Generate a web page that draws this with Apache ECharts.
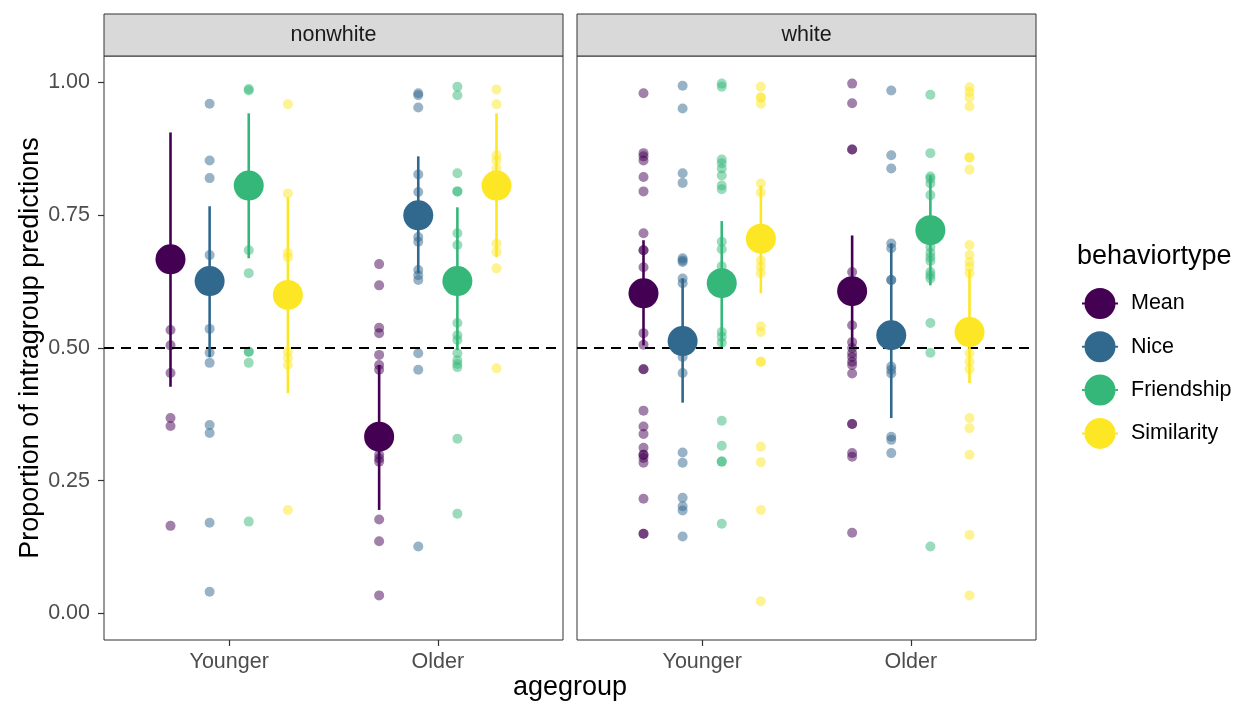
<!DOCTYPE html>
<html>
<head>
<meta charset="utf-8">
<script src="https://cdn.jsdelivr.net/npm/echarts/dist/echarts.min.js"></script>
<style>html,body{margin:0;padding:0;background:#fff;}#chart{width:1238px;height:704px;}</style>
</head>
<body>
<div id="chart"></div>
<script>
// ---------- data ----------
const facets = ['nonwhite', 'white'];
const agegroups = ['Younger', 'Older'];
const behaviors = ['Mean', 'Nice', 'Friendship', 'Similarity'];
const yTicks = [0, 0.25, 0.5, 0.75, 1.0];
const yTickLabels = ['0.00', '0.25', '0.50', '0.75', '1.00'];
const refLine = 0.5;

// raw proportions (facet / agegroup / behaviortype)
const nonwhite_Younger_Mean = [0.534, 0.505, 0.453, 0.368, 0.353, 0.165];
const nonwhite_Younger_Nice = [0.960, 0.853, 0.820, 0.675, 0.536, 0.491, 0.472, 0.355, 0.340, 0.171, 0.041];
const nonwhite_Younger_Friendship = [0.988, 0.985, 0.684, 0.641, 0.493, 0.493, 0.472, 0.173];
const nonwhite_Younger_Similarity = [0.959, 0.791, 0.679, 0.671, 0.493, 0.481, 0.468, 0.195];
const nonwhite_Older_Mean = [0.658, 0.618, 0.538, 0.528, 0.487, 0.468, 0.459, 0.299, 0.292, 0.286, 0.177, 0.136, 0.034];
const nonwhite_Older_Nice = [0.980, 0.976, 0.953, 0.827, 0.794, 0.709, 0.700, 0.647, 0.637, 0.628, 0.490, 0.459, 0.126];
const nonwhite_Older_Friendship = [0.992, 0.976, 0.829, 0.795, 0.795, 0.716, 0.694, 0.547, 0.524, 0.515, 0.490, 0.477, 0.470, 0.464, 0.329, 0.188];
const nonwhite_Older_Similarity = [0.987, 0.959, 0.863, 0.853, 0.838, 0.697, 0.681, 0.650, 0.462];
const white_Younger_Mean = [0.980, 0.867, 0.861, 0.853, 0.822, 0.795, 0.716, 0.684, 0.684, 0.652, 0.528, 0.506, 0.460, 0.460, 0.382, 0.352, 0.338, 0.312, 0.299, 0.299, 0.293, 0.284, 0.216, 0.150, 0.150];
const white_Younger_Nice = [0.994, 0.951, 0.829, 0.811, 0.669, 0.665, 0.662, 0.631, 0.622, 0.483, 0.453, 0.303, 0.284, 0.218, 0.202, 0.194, 0.145];
const white_Younger_Friendship = [0.998, 0.992, 0.855, 0.848, 0.838, 0.825, 0.806, 0.799, 0.700, 0.686, 0.654, 0.530, 0.521, 0.510, 0.363, 0.316, 0.286, 0.286, 0.169];
const white_Younger_Similarity = [0.992, 0.972, 0.972, 0.960, 0.810, 0.793, 0.665, 0.653, 0.641, 0.541, 0.530, 0.474, 0.474, 0.314, 0.285, 0.195, 0.023];
const white_Older_Mean = [0.998, 0.961, 0.874, 0.874, 0.643, 0.543, 0.511, 0.500, 0.490, 0.483, 0.474, 0.468, 0.452, 0.357, 0.357, 0.302, 0.295, 0.152];
const white_Older_Nice = [0.985, 0.863, 0.838, 0.697, 0.688, 0.628, 0.628, 0.465, 0.459, 0.452, 0.333, 0.327, 0.302];
const white_Older_Friendship = [0.977, 0.867, 0.823, 0.819, 0.810, 0.788, 0.690, 0.679, 0.671, 0.664, 0.643, 0.637, 0.631, 0.547, 0.491, 0.126];
const white_Older_Similarity = [0.991, 0.982, 0.972, 0.955, 0.859, 0.859, 0.836, 0.694, 0.675, 0.662, 0.653, 0.641, 0.490, 0.474, 0.460, 0.368, 0.349, 0.299, 0.148, 0.034];

// summary estimates per behaviortype: [Younger, Older]
const nonwhite_est  = {Mean:[0.667, 0.333], Nice:[0.626, 0.750], Friendship:[0.806, 0.626], Similarity:[0.600, 0.806]};
const nonwhite_low  = {Mean:[0.427, 0.195], Nice:[0.483, 0.641], Friendship:[0.669, 0.496], Similarity:[0.415, 0.671]};
const nonwhite_high = {Mean:[0.906, 0.468], Nice:[0.767, 0.861], Friendship:[0.942, 0.765], Similarity:[0.784, 0.942]};
const white_est  = {Mean:[0.603, 0.607], Nice:[0.513, 0.524], Friendship:[0.622, 0.722], Similarity:[0.706, 0.530]};
const white_low  = {Mean:[0.505, 0.500], Nice:[0.397, 0.368], Friendship:[0.502, 0.618], Similarity:[0.603, 0.434]};
const white_high = {Mean:[0.703, 0.712], Nice:[0.631, 0.697], Friendship:[0.739, 0.825], Similarity:[0.806, 0.647]};

// ---------- styling / layout ----------
const colors = {Mean:'#440154', Nice:'#31688E', Friendship:'#35B779', Similarity:'#FDE725'};
const dodge = [-0.28125, -0.09375, 0.09375, 0.28125];
const FONT = '"Liberation Sans", Arial, Helvetica, sans-serif';
const panels = [{left:104, top:56, width:459, height:584}, {left:577, top:56, width:459, height:584}];

const raw = {
  nonwhite: {Younger:{Mean:nonwhite_Younger_Mean, Nice:nonwhite_Younger_Nice, Friendship:nonwhite_Younger_Friendship, Similarity:nonwhite_Younger_Similarity},
             Older:{Mean:nonwhite_Older_Mean, Nice:nonwhite_Older_Nice, Friendship:nonwhite_Older_Friendship, Similarity:nonwhite_Older_Similarity}},
  white: {Younger:{Mean:white_Younger_Mean, Nice:white_Younger_Nice, Friendship:white_Younger_Friendship, Similarity:white_Younger_Similarity},
          Older:{Mean:white_Older_Mean, Nice:white_Older_Nice, Friendship:white_Older_Friendship, Similarity:white_Older_Similarity}}
};
const summ = {
  nonwhite: {est:nonwhite_est, low:nonwhite_low, high:nonwhite_high},
  white: {est:white_est, low:white_low, high:white_high}
};

const grids = [], xAxes = [], yAxes = [], series = [], graphics = [];

facets.forEach((f, g) => {
  const p = panels[g];
  grids.push({left:p.left, top:p.top, width:p.width, height:p.height, show:true, borderColor:'#333', borderWidth:1, backgroundColor:'#fff'});
  xAxes.push({
    gridIndex:g, type:'value', min:0.4, max:2.6, position:'bottom',
    axisLine:{show:false, onZero:false}, splitLine:{show:false},
    axisTick:{show:true, customValues:[1,2], length:6, lineStyle:{color:'#333', width:1.2}},
    axisLabel:{customValues:[1,2], formatter:v => agegroups[Math.round(v)-1], color:'#4D4D4D', fontSize:21.5, fontFamily:FONT, margin:11}
  });
  yAxes.push({
    gridIndex:g, type:'value', min:-0.05, max:1.05, position:'left',
    axisLine:{show:false, onZero:false}, splitLine:{show:false},
    axisTick:{show:g===0, customValues:yTicks, length:6, lineStyle:{color:'#333', width:1.2}},
    axisLabel:{show:g===0, customValues:yTicks, formatter:v => yTickLabels[yTicks.findIndex(t => Math.abs(t-v) < 1e-6)], color:'#4D4D4D', fontSize:21.5, fontFamily:FONT, margin:14},
    name: g===0 ? 'Proportion of intragroup predictions' : '',
    nameLocation:'middle', nameGap:60,
    nameTextStyle:{color:'#000', fontSize:27, fontFamily:FONT}
  });

  // raw points
  behaviors.forEach((b, bi) => {
    const data = [];
    agegroups.forEach((a, ai) => {
      raw[f][a][b].forEach(v => data.push([ai + 1 + dodge[bi], v]));
    });
    series.push({type:'scatter', name:b, xAxisIndex:g, yAxisIndex:g, data, symbol:'circle', symbolSize:10, z:2,
      itemStyle:{color:colors[b], opacity:0.5}, silent:true});
  });

  // reference line
  series.push({type:'line', xAxisIndex:g, yAxisIndex:g, data:[[0.4, refLine],[2.6, refLine]], symbol:'none', z:3, silent:true,
    lineStyle:{color:'#000', width:2, type:[10,7]}});

  // error bars + estimates
  behaviors.forEach((b, bi) => {
    const ebData = agegroups.map((a, ai) => [ai + 1 + dodge[bi], summ[f].low[b][ai], summ[f].high[b][ai]]);
    series.push({type:'custom', name:b, xAxisIndex:g, yAxisIndex:g, data:ebData, z:4, silent:true,
      encode:{x:0, y:[1,2]},
      renderItem:(params, api) => {
        const x = api.value(0);
        const p1 = api.coord([x, api.value(1)]);
        const p2 = api.coord([x, api.value(2)]);
        return {type:'line', shape:{x1:p1[0], y1:p1[1], x2:p2[0], y2:p2[1]}, style:{stroke:colors[b], lineWidth:2.6}};
      }});
    const estData = agegroups.map((a, ai) => [ai + 1 + dodge[bi], summ[f].est[b][ai]]);
    series.push({type:'scatter', name:b, xAxisIndex:g, yAxisIndex:g, data:estData, symbol:'circle', symbolSize:30, z:5,
      itemStyle:{color:colors[b], opacity:1}, silent:true});
  });

  // strip
  graphics.push({type:'rect', shape:{x:p.left, y:14, width:p.width, height:42}, style:{fill:'#D9D9D9', stroke:'#333', lineWidth:1}, z:10});
  graphics.push({type:'text', x:p.left + p.width/2, y:35, style:{text:f, fill:'#1A1A1A', font:'21.5px ' + FONT, textAlign:'center', textVerticalAlign:'middle'}, z:11});
});

// x axis title & legend title
graphics.push({type:'text', x:(panels[0].left + panels[1].left + panels[1].width)/2, y:688, style:{text:'agegroup', fill:'#000', font:'27px ' + FONT, textAlign:'center', textVerticalAlign:'middle'}});
graphics.push({type:'text', x:1077, y:257, style:{text:'behaviortype', fill:'#000', font:'27px ' + FONT, textAlign:'left', textVerticalAlign:'middle'}});

const legendIcon = 'path://M2.5,15.5a15.5,15.5 0 1,0 31,0a15.5,15.5 0 1,0 -31,0Z M0,14.5h2.5v2h-2.5Z M33.5,14.5h2.5v2h-2.5Z';

const option = {
  animation:false,
  backgroundColor:'#fff',
  textStyle:{fontFamily:FONT},
  grid:grids, xAxis:xAxes, yAxis:yAxes, series,
  legend:{
    orient:'vertical', left:1077, top:283, itemWidth:36, itemHeight:31, itemGap:12.3,
    selectedMode:false,
    textStyle:{fontSize:21.5, color:'#000', fontFamily:FONT, padding:[0,0,0,8]},
    data:behaviors.map(b => ({name:b, icon:legendIcon, itemStyle:{color:colors[b], opacity:1}}))
  },
  graphic:graphics
};

const chart = echarts.init(document.getElementById('chart'), null, {renderer:'canvas'});
chart.setOption(option);
</script>
</body>
</html>
